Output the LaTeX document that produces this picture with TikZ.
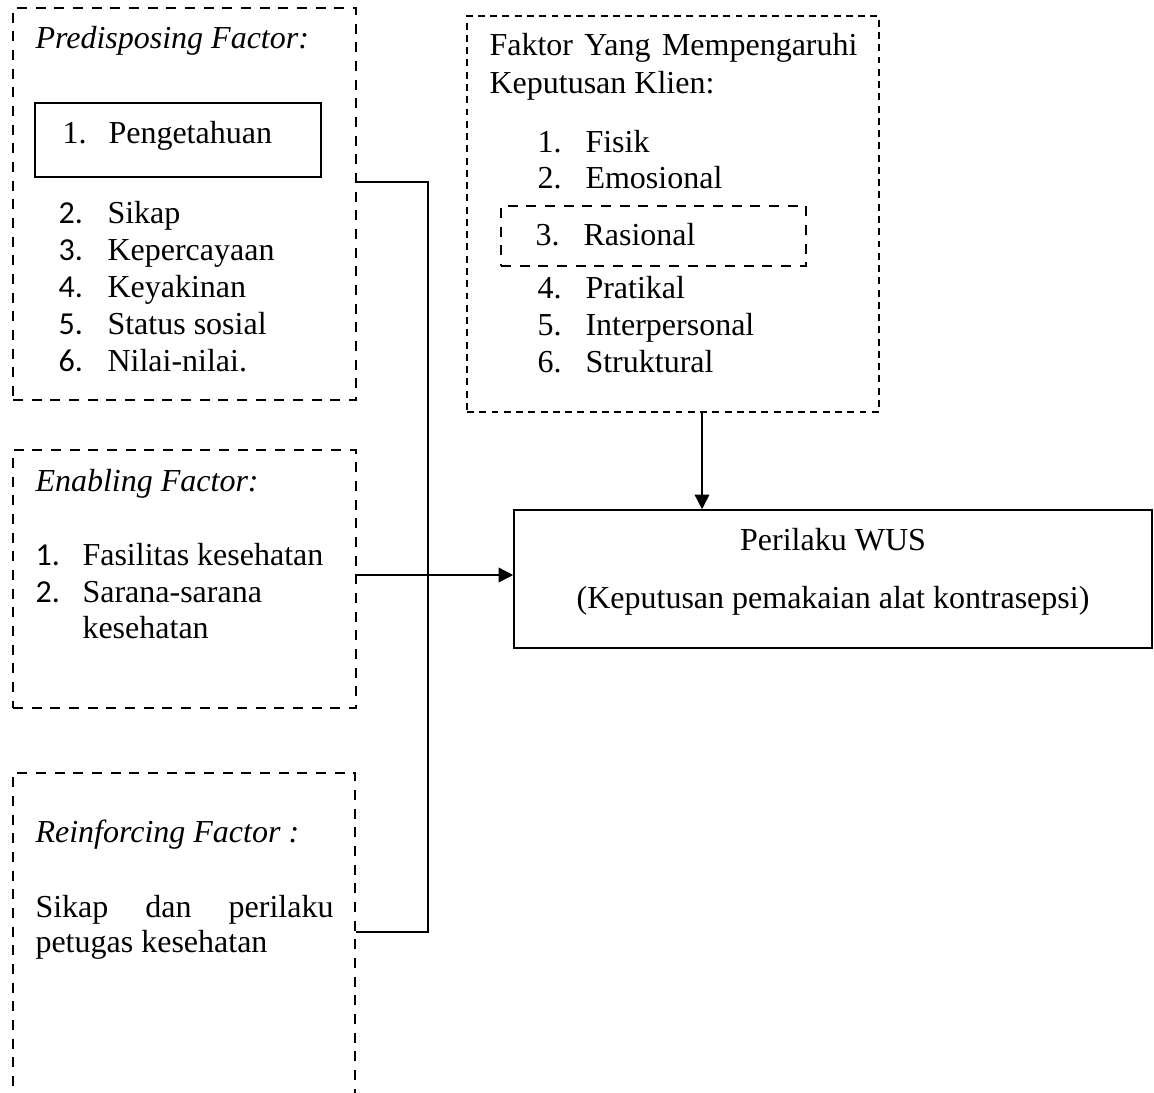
\documentclass[tikz,border=0pt]{standalone}
\usepackage{fontspec}
\setmainfont{Liberation Serif}
\newfontfamily\numfont{Carlito}
\usetikzlibrary{fit}
\usetikzlibrary{arrows.meta}

\begin{document}
\begin{tikzpicture}[
  x=0.375pt, y=-0.375pt, % one unit = one pixel of the page
  every node/.style={inner sep=0pt, font=\fontsize{12}{14}\selectfont},
  txt/.style={anchor=base west},
  dashbox/.style={draw, line width=1.05pt, dash pattern=on 3.75pt off 3.25pt},
  thinbox/.style={draw, line width=0.6pt, dash pattern=on 2.6pt off 2pt},
  solidbox/.style={draw, line width=0.7pt},
  line/.style={line width=0.6pt},
  arrow/.style={-{Triangle[length=5.5pt,width=5.5pt]}, line width=0.6pt}
]
\clip (0,0) rectangle (1154,1092);

% boxes
\node[dashbox, fit={(13,8) (356,400)}] (pre) {};
\node[solidbox, fit={(35,103) (321,177)}] (pgt) {};
\node[dashbox, fit={(13,450) (356,708)}] (ena) {};
\node[dashbox, fit={(13,773) (355,1130)}] (rei) {};
\node[thinbox, fit={(467,16) (879,412)}] (fak) {};
\node[dashbox, fit={(501,206) (806,266)}] (ras) {};
\node[solidbox, line width=0.6pt, fit={(514,510) (1152,648)}] (prl) {};

% predisposing
\node[txt, font=\fontsize{12}{14}\selectfont\itshape] (preH) at (35,48) {Predisposing Factor:};
\node[txt] (pgtN) at (62,143) {1.};
\node[txt] (pgtT) at (108,143) {Pengetahuan};
\node[txt] (pre2N) at (58,223) {\numfont 2.};
\node[txt] (pre2T) at (107,223) {Sikap};
\node[txt] (pre3N) at (58,260) {\numfont 3.};
\node[txt] (pre3T) at (107,260) {Kepercayaan};
\node[txt] (pre4N) at (58,297) {\numfont 4.};
\node[txt] (pre4T) at (107,297) {Keyakinan};
\node[txt] (pre5N) at (58,334) {\numfont 5.};
\node[txt] (pre5T) at (107,334) {Status sosial};
\node[txt] (pre6N) at (58,371) {\numfont 6.};
\node[txt] (pre6T) at (107,371) {Nilai-nilai.};

% enabling
\node[txt, font=\fontsize{12}{14}\selectfont\itshape] (enaH) at (35,491) {Enabling Factor:};
\node[txt] (ena1N) at (35,565) {\numfont 1.};
\node[txt] (ena1T) at (82,565) {Fasilitas kesehatan};
\node[txt] (ena2N) at (35,602) {\numfont 2.};
\node[txt] (ena2T) at (82,602) {Sarana-sarana};
\node[txt] (ena2U) at (82,638) {kesehatan};

% reinforcing
\node[txt, font=\fontsize{12}{14}\selectfont\itshape] (reiH) at (35,842) {Reinforcing Factor :};
\node[txt] (reiT) at (35,917) {\makebox[111.75pt][s]{Sikap dan perilaku}};
\node[txt] (reiU) at (35,952) {petugas kesehatan};

% faktor klien
\node[txt] (fakH) at (489,55) {\makebox[138pt][s]{Faktor Yang Mempengaruhi}};
\node[txt] (fakI) at (489,93) {Keputusan Klien:};
\node[txt] (fak1N) at (537,152) {1.};
\node[txt] (fak1T) at (585,152) {Fisik};
\node[txt] (fak2N) at (537,188) {2.};
\node[txt] (fak2T) at (585,188) {Emosional};
\node[txt] (fak3N) at (535,245) {3.};
\node[txt] (fak3T) at (583,245) {Rasional};
\node[txt] (fak4N) at (537,298) {4.};
\node[txt] (fak4T) at (585,298) {Pratikal};
\node[txt] (fak5N) at (537,335) {5.};
\node[txt] (fak5T) at (585,335) {Interpersonal};
\node[txt] (fak6N) at (537,372) {6.};
\node[txt] (fak6T) at (585,372) {Struktural};

% perilaku
\node[anchor=base] (prlT) at (833,550) {Perilaku WUS};
\node[anchor=base] (prlU) at (833,608) {(Keputusan pemakaian alat kontrasepsi)};

% connectors
\coordinate (bt) at (428,182);
\coordinate (bb) at (428,932);
\coordinate (ax) at (702,0);
\coordinate (ay) at (0,575);
\draw[line] (bt -| pre.east) -- (bt) -- (bb) -- (bb -| rei.east);
\draw[arrow] (ay -| ena.east) -- (ay -| prl.west);
\draw[arrow] (ax |- fak.south) -- (ax |- prl.north);
\end{tikzpicture}
\end{document}
